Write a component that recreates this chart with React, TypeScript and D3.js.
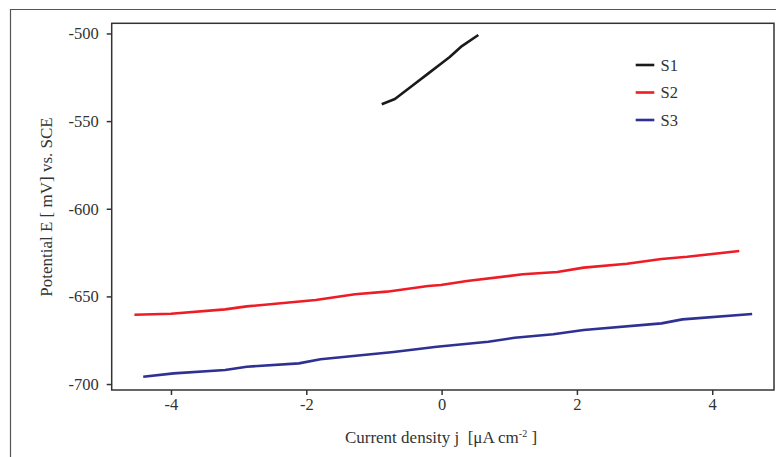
import React, { useEffect, useRef } from "react";
import * as d3 from "d3";

const xTicks = [-4, -2, 0, 2, 4];
const yTicks = [-500, -550, -600, -650, -700];

const s1X = [-0.885, -0.69, -0.4, -0.2, 0.0, 0.12, 0.3, 0.543];
const s1Y = [-540.4, -537.4, -528.8, -522.9, -517.0, -513.4, -507.2, -500.9];

const s2X = [-4.54, -4.0, -3.2, -2.88, -1.86, -1.28, -0.81, -0.2, -0.01, 0.375, 1.2, 1.71, 2.1, 2.74, 3.25, 3.63, 4.4];
const s2Y = [-660.5, -659.9, -657.4, -655.7, -652.1, -648.8, -647.3, -644.1, -643.5, -641.2, -637.4, -636.1, -633.6, -631.4, -628.7, -627.4, -624.1];

const s3X = [-4.41, -3.96, -3.2, -2.88, -2.11, -1.79, -0.71, -0.07, 0.69, 1.08, 1.65, 2.1, 3.25, 3.56, 4.59];
const s3Y = [-695.8, -693.9, -692.0, -690.1, -688.2, -685.9, -681.7, -678.7, -675.9, -673.6, -671.6, -669.2, -665.4, -663.1, -660.0];

const seriesNames = ["S1", "S2", "S3"];
const seriesColors = ["#1a1a1a", "#ee1c25", "#2e3192"];

export default function App() {
  const ref = useRef<SVGSVGElement | null>(null);

  useEffect(() => {
    const svg = d3.select(ref.current);
    svg.selectAll("*").remove();
    const W = 776, H = 457;
    const left = 111.7, right = 774, top = 23.3, bottom = 390;
    const font = "'Liberation Serif', 'Times New Roman', serif";
    const x = d3.scaleLinear().domain([-4.876, 4.913]).range([left, right]);
    const y = d3.scaleLinear().domain([-494.2, -703.4]).range([top, bottom]);

    svg.append("rect").attr("width", W).attr("height", H).attr("fill", "#fff");
    // outer frame
    svg.append("path").attr("d", `M10.5,${H} V9.5 H${W}`).attr("fill", "none").attr("stroke", "#555").attr("stroke-width", 1.2);

    // plot box
    svg.append("rect").attr("x", left).attr("y", top).attr("width", right - left).attr("height", bottom - top)
      .attr("fill", "none").attr("stroke", "#333").attr("stroke-width", 1.5);

    const xAxis = d3.axisBottom(x).tickValues(xTicks).tickSize(5).tickPadding(3).tickFormat((d) => String(d));
    const gx = svg.append("g").attr("transform", `translate(0,${bottom})`).call(xAxis);
    const yAxis = d3.axisLeft(y).tickValues(yTicks).tickSize(5).tickPadding(8).tickFormat((d) => String(d));
    const gy = svg.append("g").attr("transform", `translate(${left},0)`).call(yAxis);
    [gx, gy].forEach((g) => {
      g.select(".domain").remove();
      g.selectAll("line").attr("stroke", "#333").attr("stroke-width", 1.5);
      g.selectAll("text").attr("font-family", font).attr("font-size", 16.5).attr("fill", "#333");
    });

    const line = d3.line<[number, number]>().x((d) => x(d[0])).y((d) => y(d[1])).curve(d3.curveLinear);
    const data = [
      d3.zip(s1X, s1Y) as [number, number][],
      d3.zip(s2X, s2Y) as [number, number][],
      d3.zip(s3X, s3Y) as [number, number][],
    ];
    data.forEach((pts, i) => {
      svg.append("path").attr("d", line(pts)).attr("fill", "none").attr("stroke", seriesColors[i])
        .attr("stroke-width", 2.6).attr("stroke-linejoin", "round").attr("stroke-linecap", "butt");
    });

    // legend
    const lg = svg.append("g");
    seriesNames.forEach((n, i) => {
      const ly = 65 + i * 27.5;
      lg.append("line").attr("x1", 635.7).attr("x2", 654.3).attr("y1", ly).attr("y2", ly)
        .attr("stroke", seriesColors[i]).attr("stroke-width", 2.6);
      lg.append("text").attr("x", 660.5).attr("y", ly + 5.5).attr("font-family", font).attr("font-size", 16.5)
        .attr("fill", "#333").text(n);
    });

    // axis titles
    svg.append("text").attr("transform", `translate(52,207) rotate(-90)`).attr("text-anchor", "middle")
      .attr("font-family", font).attr("font-size", 17).attr("fill", "#333").text("Potential E [ mV] vs. SCE");
    const xt = svg.append("text").attr("x", 441).attr("y", 443).attr("text-anchor", "middle")
      .attr("font-family", font).attr("font-size", 17).attr("fill", "#333");
    xt.append("tspan").text("Current density j\u00a0\u00a0[μA cm");
    xt.append("tspan").attr("font-size", 10).attr("dy", -6).text("-2");
    xt.append("tspan").attr("dy", 6).text("\u00a0]");
  }, []);

  return (
    <svg ref={ref} width={776} height={457} style={{ position: "absolute", left: 0, top: 0 }} />
  );
}
